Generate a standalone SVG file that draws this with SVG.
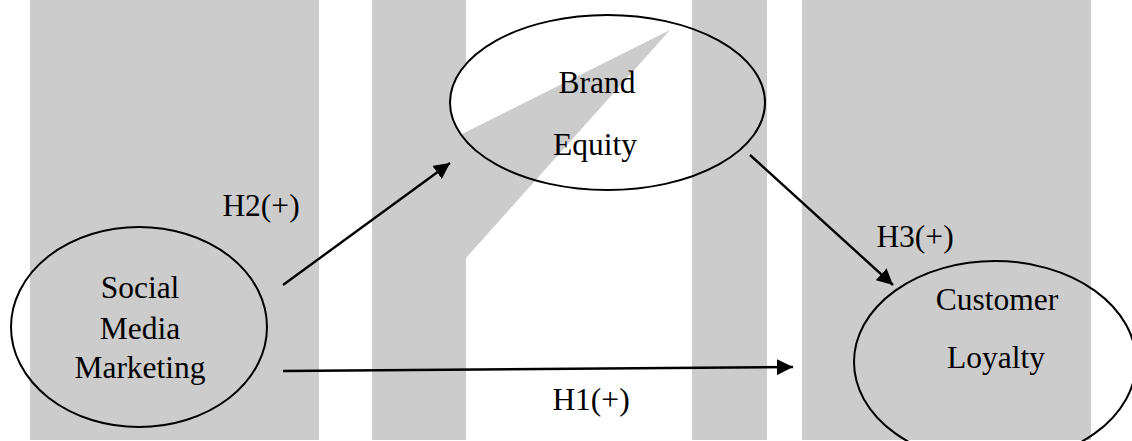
<svg xmlns="http://www.w3.org/2000/svg" width="1132" height="441" viewBox="0 0 1132 441">
  <style>
    .bg { fill: #cccccc; }
    .node { fill: none; stroke: #000; stroke-width: 2; }
    .lbl { font-family: "Liberation Serif", "Times New Roman", serif; font-size: 31.5px; fill: #000; text-anchor: middle; }
    .edge { fill: none; stroke: #000; stroke-width: 2.4; }
  </style>
  <defs>
    <marker id="arrow" markerUnits="userSpaceOnUse" markerWidth="17" markerHeight="16" refX="16" refY="8" orient="auto">
      <path d="M0,0 L16,8 L0,16 z" fill="#000"/>
    </marker>
  </defs>
  <rect width="1132" height="441" fill="#ffffff"/>
  <g id="background">
    <rect class="bg" x="30" y="0" width="289" height="440"/>
    <rect class="bg" x="372" y="0" width="94" height="440"/>
    <rect class="bg" x="692" y="0" width="75" height="440"/>
    <rect class="bg" x="802" y="0" width="289" height="440"/>
  </g>
  <g id="node-brand-equity">
    <ellipse cx="607.5" cy="102.5" rx="157.5" ry="87.5" fill="#ffffff"/>
    <polygon class="bg" points="430,150 670,30 466,258 430,258"/>
    <rect class="bg" x="692" y="0" width="75" height="200"/>
    <ellipse class="node" cx="607.5" cy="102.5" rx="157.5" ry="87.5"/>
    <text class="lbl" x="597" y="93">Brand</text>
    <text class="lbl" x="595" y="155">Equity</text>
  </g>
  <g id="node-social-media-marketing">
    <ellipse class="node" cx="139" cy="327" rx="128" ry="100"/>
    <text class="lbl" x="140" y="298">Social</text>
    <text class="lbl" x="140" y="339">Media</text>
    <text class="lbl" x="140" y="378">Marketing</text>
  </g>
  <g id="node-customer-loyalty">
    <ellipse class="node" cx="995" cy="362" rx="141" ry="101"/>
    <text class="lbl" x="997" y="310">Customer</text>
    <text class="lbl" x="996" y="368">Loyalty</text>
  </g>
  <g id="connectors">
    <line class="edge" x1="283" y1="285" x2="450" y2="163" marker-end="url(#arrow)"/>
    <line class="edge" x1="283" y1="371" x2="793" y2="367" marker-end="url(#arrow)"/>
    <line class="edge" x1="750" y1="155" x2="893" y2="285" marker-end="url(#arrow)"/>
    <text class="lbl" x="261" y="216">H2(+)</text>
    <text class="lbl" x="591" y="410">H1(+)</text>
    <text class="lbl" x="915" y="247">H3(+)</text>
  </g>
</svg>
